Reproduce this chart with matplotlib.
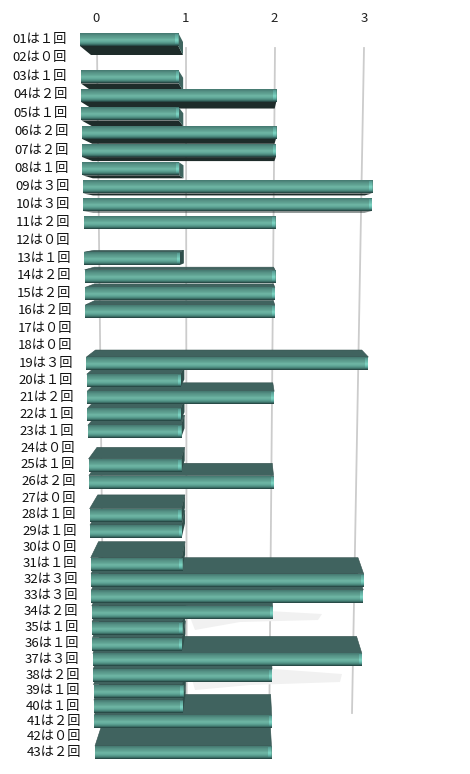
import numpy as np
import matplotlib
matplotlib.use('Agg')
import matplotlib.pyplot as plt
from matplotlib.patches import Polygon

plt.rcParams['font.family'] = ['Noto Sans CJK JP', 'DejaVu Sans']

ids = ['%02d' % i for i in range(1, 44)]
counts = [1,0,1,2,1,2,2,1,3,3,2,0,1,2,2,2,0,0,3,1,2,1,1,0,1,2,0,1,1,0,1,3,3,2,1,1,3,2,1,1,2,0,2]
ticks = [0, 1, 2, 3]
labels = [f"{a}は{chr(0xFF10 + c)}回" for a, c in zip(ids, counts)]

W, H = 470, 774
fig = plt.figure(figsize=(W/100, H/100), dpi=100)
ax = fig.add_axes([0, 0, 1, 1])

def row_y(r):
    return 39 + 18.77*r - 0.0427*r*r
def front_x(v, r):
    return 80 + 0.357*r + v*(98.3 - 0.24*r)
def back_x(v, r):
    return 91 + 0.25*r + v*(92 - 0.18*r)
def depth(r):
    return np.interp(r, [0, 5, 10, 18, 30, 36, 40, 42], [9, 5, 0, -7, -16, -17, -21, -20])
def grid_x(v, y):
    t = (y - 48) / (713 - 48)
    return (97 + 89*v)*(1-t) + (104 + v*(352-104)/3)*t

for v in ticks:
    ax.plot([grid_x(v, 48), grid_x(v, 713)], [48, 713], color='#cccccc', lw=1.3, zorder=1)
    ax.text(96 + 89.3*v, 18, str(v), ha='center', va='center', fontsize=9.5, color='#222222')
ax.add_patch(Polygon([(188, 612), (250, 610), (322, 614), (318, 620), (240, 622), (195, 630)],
                     fc='#f1f1f1', ec='none', zorder=1.5))
ax.add_patch(Polygon([(190, 672), (260, 668), (342, 674), (340, 682), (250, 685), (195, 690)],
                     fc='#f1f1f1', ec='none', zorder=1.5))

stops = np.array([[0.27, 0.47, 0.44], [0.34, 0.58, 0.53], [0.38, 0.64, 0.58], [0.44, 0.72, 0.65],
                  [0.38, 0.66, 0.60], [0.27, 0.50, 0.46], [0.13, 0.24, 0.23]])
pos = np.array([0, 0.2, 0.38, 0.52, 0.68, 0.86, 1.0])
yy = np.linspace(0, 1, 40)
grad = np.stack([np.interp(yy, pos, stops[:, i]) for i in range(3)], axis=1)[:, None, :]
capgrad = np.clip(grad + np.array([0.06, 0.12, 0.12]), 0, 1)

order = sorted(range(len(counts)), key=lambda r: -abs(r - 10))
z = 2.0
for r in order:
    v = counts[r]
    ym = row_y(r) + 0.5
    yt, yb = ym - 6.5, ym + 6.5
    if v > 0:
        xl, xr = front_x(0, r), front_x(v, r)
        bl, br = back_x(0, r), back_x(v, r)
        d = depth(r)
        z += 0.01
        if d > 0:
            ax.add_patch(Polygon([(xl, yb), (xr, yb), (br, yb+d), (bl, yb+d)], fc='#1e2c2a', ec='none', zorder=z))
        elif d < 0:
            ax.add_patch(Polygon([(xl, yt), (xr, yt), (br, yt+d), (bl, yt+d)], fc='#40635f', ec='#33504d', lw=0.4, zorder=z))
        if br > xr:
            ax.add_patch(Polygon([(xr, yt), (br, yt+d), (br, yb+d), (xr, yb)],
                                 fc='#2f4f4b' if d < 0 else '#3f6660', ec='none', zorder=z))
        z += 0.01
        ax.imshow(grad, extent=(xl, xr, yb, yt), aspect='auto', zorder=z, interpolation='bilinear')
        z += 0.01
        ax.imshow(capgrad, extent=(xr-3, xr, yb-1, yt+1), aspect='auto', zorder=z, interpolation='bilinear')

for r, lab in enumerate(labels):
    ax.text(66.5 + 0.36*r, row_y(r), lab, ha='right', va='center', fontsize=9.5, color='#111111', zorder=50)

ax.set_xlim(0, W)
ax.set_ylim(H, 0)
ax.axis('off')
fig.savefig('out.png', dpi=100, facecolor='white')
